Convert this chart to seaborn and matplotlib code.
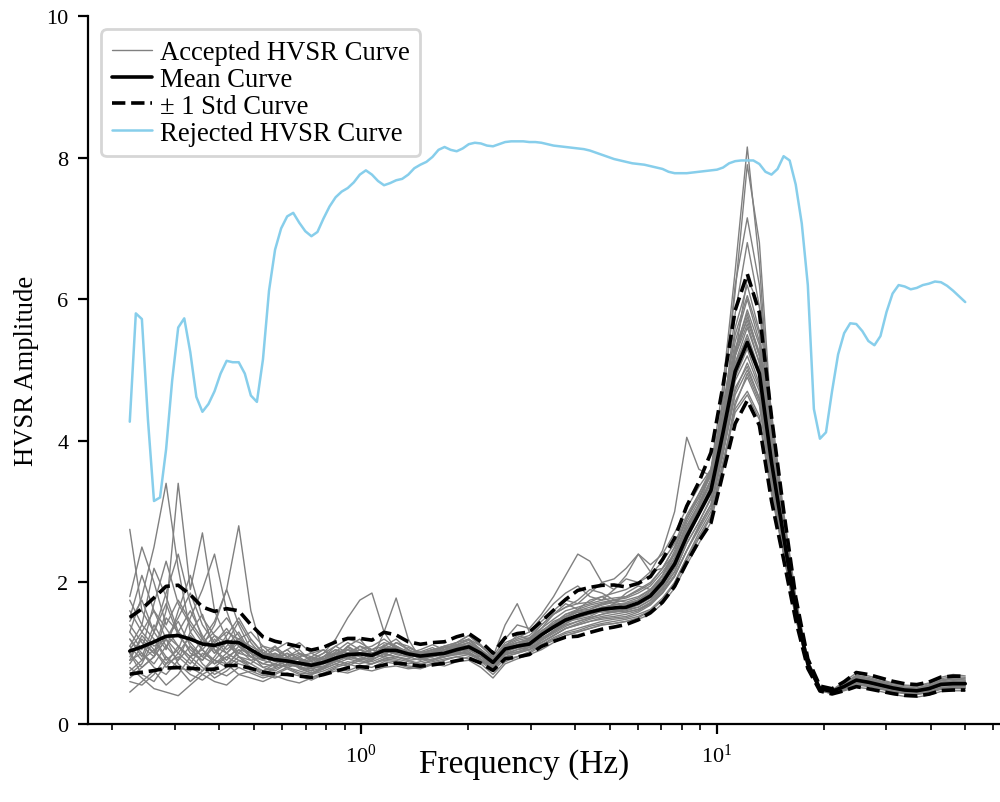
import numpy as np
import pandas as pd
import matplotlib
matplotlib.use("Agg")
import matplotlib.pyplot as plt
from matplotlib.lines import Line2D
import seaborn as sns

# Frequency sampling (Hz): fine grid for the rejected window, every other point for the rest
freq_fine = np.geomspace(0.224, 50.0, 139)
freq = freq_fine[::2]

# Mean HVSR curve and its log-normal standard deviation
mean_curve = [
    1.03, 1.09, 1.16, 1.24, 1.25, 1.20, 1.13, 1.11, 1.16, 1.15,
    1.05, 0.95, 0.91, 0.89, 0.86, 0.83, 0.87, 0.93, 0.98, 0.99,
    0.97, 1.04, 1.04, 0.99, 0.96, 0.98, 1.00, 1.05, 1.09, 1.00,
    0.87, 1.06, 1.10, 1.13, 1.26, 1.37, 1.47, 1.53, 1.58, 1.62,
    1.64, 1.65, 1.71, 1.81, 2.00, 2.26, 2.65, 2.97, 3.30, 4.12,
    4.98, 5.39, 4.95, 3.70, 2.65, 1.62, 0.85, 0.50, 0.46, 0.53,
    0.62, 0.59, 0.55, 0.51, 0.48, 0.47, 0.50, 0.56, 0.57, 0.57]

std_log = [
    0.38, 0.40, 0.43, 0.45, 0.45, 0.42, 0.38, 0.36, 0.34, 0.33,
    0.29, 0.26, 0.25, 0.24, 0.24, 0.23, 0.22, 0.22, 0.21, 0.20,
    0.20, 0.22, 0.19, 0.16, 0.16, 0.16, 0.15, 0.16, 0.16, 0.15,
    0.14, 0.14, 0.15, 0.14, 0.14, 0.16, 0.18, 0.21, 0.20, 0.19,
    0.18, 0.16, 0.15, 0.14, 0.15, 0.15, 0.15, 0.14, 0.15, 0.15,
    0.16, 0.165, 0.16, 0.16, 0.13, 0.10, 0.08, 0.07, 0.08, 0.12,
    0.16, 0.17, 0.17, 0.17, 0.17, 0.17, 0.17, 0.17, 0.17, 0.17]

# Rejected window (on the fine grid)
rejected = [
    4.27, 5.80, 5.72, 4.30, 3.15, 3.20, 3.88, 4.85, 5.60, 5.73,
    5.25, 4.62, 4.41, 4.52, 4.70, 4.95, 5.13, 5.11, 5.11, 4.95,
    4.64, 4.55, 5.15, 6.12, 6.70, 7.00, 7.17, 7.22, 7.08, 6.96,
    6.89, 6.95, 7.14, 7.31, 7.44, 7.52, 7.57, 7.65, 7.76, 7.82,
    7.76, 7.67, 7.61, 7.64, 7.68, 7.70, 7.76, 7.85, 7.90, 7.94,
    8.01, 8.11, 8.15, 8.11, 8.09, 8.13, 8.19, 8.21, 8.20, 8.17,
    8.16, 8.19, 8.22, 8.23, 8.23, 8.23, 8.22, 8.22, 8.21, 8.19,
    8.17, 8.16, 8.15, 8.14, 8.13, 8.12, 8.10, 8.07, 8.04, 8.01,
    7.98, 7.96, 7.94, 7.92, 7.91, 7.90, 7.88, 7.86, 7.84, 7.80,
    7.78, 7.78, 7.78, 7.79, 7.80, 7.81, 7.82, 7.83, 7.86, 7.92,
    7.95, 7.96, 7.96, 7.96, 7.91, 7.80, 7.76, 7.84, 8.02, 7.96,
    7.62, 7.07, 6.20, 4.45, 4.03, 4.12, 4.70, 5.22, 5.52, 5.66,
    5.65, 5.55, 5.41, 5.35, 5.48, 5.82, 6.08, 6.20, 6.18, 6.14,
    6.16, 6.20, 6.22, 6.25, 6.24, 6.19, 6.12, 6.04, 5.96]

# Accepted windows
win_a = [2.75, 1.60, 1.30, 1.85, 2.40, 1.70, 1.20, 1.45, 1.90, 1.40,
         1.05, 0.90, 1.10, 0.85, 0.80, 0.95, 1.05, 0.90, 1.10, 1.20,
         1.00, 0.95, 1.15, 1.05, 0.92, 1.00, 1.08, 1.12, 1.20, 1.05,
         0.90, 1.10, 1.25, 1.20, 1.35, 1.55, 1.70, 1.62, 1.75, 1.80,
         1.70, 1.85, 1.95, 1.90, 2.10, 2.45, 2.90, 3.20, 3.50, 4.30,
         5.30, 5.80, 5.20, 3.90, 2.75, 1.70, 0.90, 0.52, 0.47, 0.58,
         0.68, 0.64, 0.60, 0.55, 0.52, 0.50, 0.55, 0.62, 0.64, 0.62]
win_b = [0.45, 0.60, 0.75, 0.55, 0.70, 0.95, 0.80, 0.65, 0.75, 0.90,
         0.80, 0.70, 0.65, 0.72, 0.68, 0.62, 0.70, 0.78, 0.75, 0.82,
         0.80, 0.88, 0.85, 0.80, 0.78, 0.84, 0.86, 0.90, 0.95, 0.88,
         0.75, 0.92, 0.95, 1.00, 1.10, 1.18, 1.25, 1.30, 1.35, 1.40,
         1.42, 1.45, 1.50, 1.60, 1.75, 2.00, 2.35, 2.65, 2.95, 3.70,
         4.45, 4.70, 4.35, 3.30, 2.40, 1.50, 0.80, 0.48, 0.43, 0.48,
         0.55, 0.53, 0.49, 0.46, 0.43, 0.42, 0.44, 0.49, 0.50, 0.50]
win_c = [1.20, 0.95, 1.40, 1.10, 0.90, 1.30, 1.55, 1.05, 0.85, 1.00,
         1.20, 1.00, 0.80, 0.95, 1.05, 0.88, 0.78, 0.95, 1.10, 1.00,
         0.92, 1.10, 1.20, 1.05, 0.95, 0.90, 0.98, 1.10, 1.15, 1.02,
         0.85, 1.00, 1.12, 1.15, 1.28, 1.40, 1.50, 1.58, 1.55, 1.62,
         1.70, 1.65, 1.72, 1.85, 2.10, 2.40, 2.85, 3.15, 3.60, 4.80,
         6.40, 8.15, 6.50, 4.10, 2.80, 1.70, 0.88, 0.50, 0.46, 0.55,
         0.64, 0.60, 0.57, 0.52, 0.50, 0.48, 0.52, 0.58, 0.60, 0.59]
win_d = [0.85, 1.10, 0.95, 1.50, 1.30, 1.00, 0.90, 1.15, 1.35, 1.10,
         0.95, 0.85, 0.92, 1.00, 0.80, 0.75, 0.90, 1.00, 0.92, 0.98,
         1.05, 1.00, 0.95, 0.92, 1.00, 1.05, 0.98, 1.02, 1.08, 0.98,
         0.86, 1.05, 1.08, 1.10, 1.22, 1.30, 1.42, 1.50, 1.60, 1.58,
         1.60, 1.62, 1.68, 1.78, 1.95, 2.25, 2.70, 3.05, 3.45, 4.60,
         6.10, 7.90, 6.80, 4.30, 2.90, 1.75, 0.90, 0.51, 0.45, 0.53,
         0.62, 0.58, 0.55, 0.52, 0.49, 0.47, 0.50, 0.57, 0.58, 0.58]
win_e = [1.50, 2.10, 1.60, 1.20, 1.45, 1.10, 0.95, 1.20, 1.00, 0.90,
         0.85, 1.00, 1.10, 0.95, 0.85, 0.80, 0.95, 1.10, 1.00, 0.90,
         0.95, 1.12, 1.05, 0.95, 0.90, 0.98, 1.05, 1.00, 1.12, 1.05,
         0.90, 1.08, 1.15, 1.18, 1.30, 1.45, 1.52, 1.60, 1.65, 1.70,
         1.72, 1.68, 1.75, 1.88, 2.05, 2.35, 2.75, 3.10, 3.55, 4.60,
         6.20, 7.15, 6.20, 4.20, 2.85, 1.72, 0.88, 0.50, 0.46, 0.54,
         0.63, 0.61, 0.56, 0.51, 0.49, 0.48, 0.51, 0.57, 0.59, 0.58]
win_f = [0.70, 0.85, 1.20, 0.95, 0.80, 0.75, 1.00, 0.90, 0.80, 1.05,
         0.90, 0.80, 0.75, 0.85, 0.95, 0.82, 0.80, 0.88, 0.95, 1.10,
         1.00, 0.95, 1.02, 1.00, 0.92, 0.95, 1.00, 1.08, 1.05, 0.95,
         0.82, 1.02, 1.08, 1.12, 1.20, 1.32, 1.45, 1.48, 1.52, 1.60,
         1.58, 1.62, 1.65, 1.75, 1.92, 2.20, 2.60, 2.95, 3.35, 4.30,
         5.80, 6.80, 5.90, 4.00, 2.75, 1.68, 0.86, 0.49, 0.45, 0.52,
         0.60, 0.58, 0.54, 0.50, 0.47, 0.46, 0.49, 0.55, 0.56, 0.56]
win_g = [1.30, 1.80, 2.50, 3.40, 2.20, 1.30, 1.05, 0.90, 1.10, 1.30,
         1.00, 0.80, 0.85, 0.95, 0.78, 0.72, 0.80, 0.95, 1.05, 0.95,
         0.90, 1.00, 1.10, 1.00, 1.02, 1.08, 1.00, 0.98, 1.05, 0.95,
         0.85, 1.02, 1.08, 1.05, 1.18, 1.30, 1.40, 1.45, 1.50, 1.55,
         1.60, 1.58, 1.62, 1.72, 1.90, 2.15, 2.55, 2.85, 3.20, 4.00,
         4.90, 5.30, 4.80, 3.60, 2.60, 1.60, 0.84, 0.49, 0.45, 0.52,
         0.61, 0.58, 0.54, 0.50, 0.47, 0.46, 0.49, 0.55, 0.56, 0.56]
win_h = [0.95, 1.20, 1.00, 1.60, 3.40, 1.90, 2.70, 1.60, 1.20, 1.00,
         0.95, 1.05, 0.90, 0.82, 0.88, 0.95, 0.85, 0.90, 1.00, 1.05,
         0.95, 1.05, 0.98, 0.95, 1.00, 0.95, 1.02, 1.10, 1.08, 1.00,
         0.88, 1.08, 1.15, 1.20, 1.32, 1.42, 1.55, 1.62, 1.68, 1.72,
         1.75, 1.72, 1.78, 1.90, 2.10, 2.35, 2.75, 3.05, 3.40, 4.20,
         5.10, 5.60, 5.10, 3.80, 2.70, 1.65, 0.86, 0.50, 0.46, 0.54,
         0.63, 0.60, 0.56, 0.52, 0.49, 0.48, 0.51, 0.57, 0.58, 0.58]
win_i = [1.00, 0.80, 0.95, 1.20, 1.00, 0.85, 1.10, 1.40, 1.90, 2.80,
         1.60, 1.00, 0.95, 1.05, 0.90, 0.85, 0.95, 1.05, 0.95, 0.90,
         1.00, 1.08, 1.00, 0.95, 1.02, 1.00, 0.95, 1.05, 1.10, 1.00,
         0.88, 1.05, 1.10, 1.15, 1.25, 1.35, 1.45, 1.50, 1.55, 1.60,
         1.62, 1.65, 1.70, 1.80, 2.00, 2.25, 2.65, 2.95, 3.30, 4.10,
         5.00, 5.40, 4.95, 3.70, 2.65, 1.62, 0.85, 0.50, 0.46, 0.53,
         0.62, 0.59, 0.55, 0.51, 0.48, 0.47, 0.50, 0.56, 0.57, 0.57]
win_j = [1.10, 1.40, 1.20, 0.90, 1.05, 1.50, 1.90, 2.40, 1.60, 1.10,
         0.95, 0.90, 1.00, 0.92, 0.85, 0.90, 1.00, 1.20, 1.50, 1.75,
         1.85, 1.30, 1.05, 0.98, 1.00, 1.05, 1.10, 1.02, 0.98, 0.95,
         0.82, 1.00, 1.05, 1.10, 1.20, 1.32, 1.42, 1.52, 1.58, 1.65,
         1.68, 1.70, 1.75, 1.85, 2.05, 2.30, 2.70, 3.00, 3.35, 4.15,
         5.05, 5.50, 5.00, 3.75, 2.68, 1.63, 0.86, 0.50, 0.46, 0.54,
         0.63, 0.60, 0.56, 0.52, 0.49, 0.48, 0.51, 0.57, 0.58, 0.58]
win_k = [0.60, 0.55, 0.70, 0.95, 0.80, 0.60, 0.75, 0.90, 0.85, 0.70,
         0.75, 0.68, 0.72, 0.80, 0.75, 0.70, 0.75, 0.82, 0.88, 0.85,
         0.90, 1.30, 1.78, 1.20, 0.92, 0.90, 0.95, 1.00, 1.02, 0.92,
         0.80, 0.98, 1.02, 1.08, 1.15, 1.25, 1.35, 1.42, 1.48, 1.52,
         1.55, 1.58, 1.62, 1.70, 1.88, 2.10, 2.45, 2.80, 3.10, 3.85,
         4.70, 5.10, 4.70, 3.50, 2.55, 1.58, 0.83, 0.49, 0.45, 0.51,
         0.59, 0.57, 0.53, 0.49, 0.46, 0.45, 0.48, 0.54, 0.55, 0.55]
win_l = [1.80, 2.50, 2.00, 1.40, 1.75, 1.45, 1.20, 1.00, 1.25, 1.50,
         1.20, 1.00, 0.90, 1.00, 0.92, 0.88, 0.95, 1.00, 0.95, 1.00,
         1.05, 1.10, 1.00, 1.05, 0.98, 1.02, 1.10, 1.15, 1.25, 1.10,
         0.95, 1.20, 1.40, 1.35, 1.55, 1.80, 2.10, 2.40, 2.30, 2.00,
         2.05, 2.20, 2.40, 2.25, 2.40, 2.70, 3.05, 3.35, 3.60, 4.40,
         5.40, 6.00, 5.40, 4.00, 2.80, 1.72, 0.88, 0.51, 0.47, 0.56,
         0.66, 0.63, 0.58, 0.54, 0.51, 0.50, 0.54, 0.61, 0.63, 0.62]
win_m = [0.90, 1.00, 0.85, 1.10, 1.30, 1.15, 0.95, 0.85, 0.95, 1.05,
         1.00, 0.90, 0.85, 0.80, 0.85, 0.78, 0.85, 0.95, 1.05, 1.00,
         0.95, 1.02, 1.08, 1.00, 0.95, 1.00, 1.05, 1.12, 1.18, 1.05,
         0.92, 1.12, 1.20, 1.25, 1.40, 1.55, 1.65, 1.70, 1.72, 1.80,
         1.85, 1.90, 2.00, 2.15, 2.45, 3.00, 4.05, 3.60, 3.50, 4.40,
         5.30, 5.70, 5.20, 3.85, 2.75, 1.68, 0.87, 0.50, 0.46, 0.55,
         0.64, 0.61, 0.57, 0.53, 0.50, 0.49, 0.52, 0.58, 0.60, 0.59]
win_n = [1.20, 1.00, 0.80, 0.70, 0.90, 1.10, 0.85, 0.70, 0.80, 0.95,
         0.85, 0.75, 0.80, 0.90, 0.82, 0.75, 0.80, 0.90, 0.85, 0.92,
         0.88, 0.95, 0.92, 0.88, 0.85, 0.90, 0.95, 1.00, 1.02, 0.90,
         0.78, 0.95, 1.00, 1.05, 1.12, 1.22, 1.30, 1.35, 1.40, 1.45,
         1.48, 1.50, 1.55, 1.62, 1.78, 2.00, 2.35, 2.70, 3.00, 3.70,
         4.40, 4.65, 4.30, 3.25, 2.40, 1.50, 0.80, 0.47, 0.43, 0.49,
         0.56, 0.54, 0.50, 0.46, 0.43, 0.42, 0.45, 0.50, 0.51, 0.51]
win_o = [1.40, 1.15, 1.00, 1.25, 1.10, 0.95, 1.20, 1.05, 0.90, 1.10,
         1.00, 0.92, 0.98, 0.88, 0.92, 0.85, 0.92, 1.00, 0.95, 1.05,
         1.00, 1.05, 1.00, 1.08, 1.00, 1.05, 1.10, 1.15, 1.20, 1.10,
         0.95, 1.40, 1.70, 1.30, 1.45, 1.60, 1.75, 1.70, 1.85, 2.00,
         1.90, 2.10, 2.40, 2.15, 2.20, 2.50, 2.90, 3.20, 3.55, 4.35,
         5.20, 5.75, 5.25, 3.90, 2.75, 1.70, 0.87, 0.51, 0.47, 0.55,
         0.65, 0.62, 0.57, 0.53, 0.50, 0.49, 0.53, 0.59, 0.61, 0.60]
win_p = [0.80, 0.65, 0.50, 0.45, 0.40, 0.55, 0.70, 0.60, 0.55, 0.70,
         0.65, 0.60, 0.68, 0.62, 0.58, 0.65, 0.70, 0.75, 0.72, 0.78,
         0.75, 0.80, 0.82, 0.78, 0.80, 0.85, 0.82, 0.88, 0.90, 0.80,
         0.65, 0.85, 0.92, 0.98, 1.05, 1.15, 1.25, 1.30, 1.35, 1.40,
         1.42, 1.45, 1.48, 1.55, 1.70, 1.92, 2.25, 2.55, 2.85, 3.60,
         4.50, 4.95, 4.55, 3.40, 2.48, 1.55, 0.82, 0.48, 0.44, 0.50,
         0.58, 0.55, 0.51, 0.47, 0.44, 0.43, 0.46, 0.52, 0.53, 0.53]
win_q = [1.05, 1.30, 1.60, 1.35, 1.10, 0.95, 1.05, 1.25, 1.15, 0.95,
         0.90, 0.95, 1.05, 1.15, 1.00, 0.90, 0.95, 1.05, 1.00, 0.95,
         1.00, 1.05, 1.10, 1.00, 0.98, 1.05, 1.08, 1.12, 1.10, 1.00,
         0.88, 1.05, 1.12, 1.18, 1.30, 1.42, 1.55, 1.60, 1.62, 1.68,
         1.72, 1.75, 1.80, 1.90, 2.05, 2.30, 2.65, 2.95, 3.25, 3.95,
         5.20, 6.30, 5.90, 4.40, 3.00, 1.80, 0.90, 0.51, 0.46, 0.55,
         0.64, 0.61, 0.57, 0.53, 0.50, 0.49, 0.52, 0.58, 0.60, 0.59]
win_r = [1.60, 1.30, 1.10, 1.20, 1.50, 1.85, 1.40, 1.15, 1.30, 1.20,
         1.10, 1.00, 0.95, 0.90, 0.95, 1.00, 1.05, 0.95, 1.00, 1.10,
         1.05, 1.00, 1.05, 1.00, 0.98, 1.00, 1.05, 1.08, 1.12, 1.00,
         0.85, 1.05, 1.10, 1.15, 1.28, 1.40, 1.52, 1.58, 1.60, 1.65,
         1.68, 1.70, 1.75, 1.85, 2.05, 2.30, 2.70, 3.00, 3.35, 4.25,
         5.10, 5.45, 4.95, 3.70, 2.68, 1.63, 0.86, 0.50, 0.46, 0.53,
         0.62, 0.59, 0.55, 0.51, 0.48, 0.47, 0.50, 0.56, 0.57, 0.57]
win_s = [0.75, 0.90, 1.05, 0.85, 0.95, 0.80, 0.70, 0.80, 0.95, 0.85,
         0.80, 0.72, 0.78, 0.85, 0.80, 0.72, 0.78, 0.85, 0.92, 0.88,
         0.85, 0.92, 0.90, 0.85, 0.88, 0.92, 0.95, 0.98, 1.00, 0.90,
         0.80, 0.98, 1.02, 1.05, 1.15, 1.25, 1.35, 1.40, 1.45, 1.48,
         1.50, 1.52, 1.58, 1.68, 1.85, 2.10, 2.45, 2.78, 3.10, 3.90,
         4.75, 5.05, 4.60, 3.45, 2.50, 1.56, 0.83, 0.49, 0.45, 0.52,
         0.60, 0.57, 0.53, 0.49, 0.46, 0.45, 0.48, 0.54, 0.55, 0.55]
win_t = [1.10, 0.90, 1.30, 1.70, 1.25, 1.05, 0.90, 1.10, 1.00, 1.20,
         1.05, 0.95, 0.88, 0.92, 0.85, 0.80, 0.88, 0.98, 1.08, 1.00,
         0.98, 1.05, 1.02, 0.98, 0.95, 1.00, 1.05, 1.10, 1.15, 1.02,
         0.90, 1.10, 1.18, 1.22, 1.35, 1.48, 1.60, 1.65, 1.70, 1.75,
         1.78, 1.80, 1.88, 1.98, 2.20, 2.50, 2.90, 3.25, 3.55, 4.50,
         5.50, 6.05, 5.50, 4.05, 2.85, 1.72, 0.88, 0.51, 0.47, 0.55,
         0.65, 0.62, 0.57, 0.53, 0.50, 0.49, 0.53, 0.59, 0.61, 0.60]
win_u = [1.45, 1.75, 1.30, 1.05, 1.60, 2.10, 1.50, 1.25, 1.05, 1.20,
         1.30, 1.10, 0.95, 1.05, 1.15, 1.00, 0.92, 1.02, 1.15, 1.05,
         1.10, 1.20, 1.08, 1.00, 1.05, 1.12, 1.05, 1.15, 1.25, 1.12,
         0.92, 1.15, 1.22, 1.30, 1.50, 1.70, 1.85, 1.95, 1.80, 1.75,
         1.90, 2.05, 2.00, 2.10, 2.30, 2.55, 2.95, 3.25, 3.60, 4.35,
         5.25, 5.85, 5.35, 3.95, 2.78, 1.70, 0.88, 0.52, 0.48, 0.60,
         0.72, 0.68, 0.63, 0.58, 0.55, 0.54, 0.58, 0.66, 0.70, 0.68]
win_v = [0.65, 0.80, 0.95, 1.20, 0.85, 0.70, 0.62, 0.75, 0.68, 0.80,
         0.72, 0.65, 0.70, 0.78, 0.70, 0.66, 0.72, 0.80, 0.85, 0.80,
         0.85, 0.90, 0.88, 0.82, 0.80, 0.86, 0.90, 0.95, 0.92, 0.85,
         0.70, 0.88, 0.95, 1.02, 1.12, 1.20, 1.28, 1.32, 1.38, 1.42,
         1.45, 1.48, 1.52, 1.60, 1.75, 1.98, 2.30, 2.62, 2.92, 3.65,
         4.55, 4.90, 4.50, 3.35, 2.45, 1.52, 0.81, 0.47, 0.43, 0.47,
         0.52, 0.50, 0.46, 0.42, 0.39, 0.38, 0.41, 0.46, 0.47, 0.47]
win_w = [1.75, 1.40, 2.20, 1.80, 1.30, 1.60, 1.25, 1.00, 1.15, 1.45,
         1.15, 0.95, 1.00, 0.90, 0.98, 0.92, 1.00, 1.10, 1.20, 1.15,
         1.05, 1.15, 1.10, 1.02, 0.98, 1.02, 1.08, 1.05, 1.10, 1.05,
         0.90, 1.10, 1.15, 1.20, 1.40, 1.55, 1.65, 1.75, 1.90, 1.85,
         1.75, 1.80, 1.90, 2.00, 2.20, 2.40, 2.80, 3.10, 3.45, 4.30,
         5.20, 5.65, 5.10, 3.80, 2.70, 1.66, 0.87, 0.51, 0.47, 0.57,
         0.69, 0.66, 0.61, 0.57, 0.54, 0.53, 0.57, 0.64, 0.67, 0.66]
win_x = [0.90, 1.25, 1.05, 0.80, 1.00, 1.25, 1.05, 0.85, 1.00, 1.15,
         0.95, 0.85, 0.82, 0.88, 0.80, 0.78, 0.82, 0.88, 0.95, 0.92,
         0.92, 0.98, 0.95, 0.90, 0.92, 0.95, 0.98, 1.02, 1.05, 0.95,
         0.80, 0.98, 1.05, 1.08, 1.18, 1.28, 1.38, 1.45, 1.50, 1.55,
         1.58, 1.60, 1.65, 1.75, 1.92, 2.15, 2.55, 2.85, 3.18, 3.95,
         4.85, 5.20, 4.75, 3.55, 2.58, 1.60, 0.84, 0.49, 0.45, 0.50,
         0.57, 0.55, 0.51, 0.47, 0.44, 0.43, 0.46, 0.51, 0.52, 0.52]
win_y = [1.30, 1.05, 1.70, 2.30, 1.70, 1.40, 1.15, 1.30, 1.50, 1.25,
         1.00, 1.10, 1.05, 0.95, 1.00, 0.95, 0.90, 1.00, 1.05, 1.00,
         0.98, 1.05, 1.15, 1.10, 1.00, 1.02, 1.00, 1.08, 1.15, 1.05,
         0.88, 1.08, 1.12, 1.18, 1.30, 1.40, 1.48, 1.55, 1.62, 1.70,
         1.75, 1.78, 1.85, 1.95, 2.15, 2.40, 2.80, 3.10, 3.45, 4.35,
         5.60, 6.20, 5.55, 4.05, 2.82, 1.70, 0.87, 0.50, 0.46, 0.56,
         0.67, 0.64, 0.59, 0.55, 0.52, 0.51, 0.55, 0.62, 0.65, 0.64]
win_z = [1.00, 0.70, 0.60, 0.85, 1.10, 0.90, 0.75, 0.95, 1.20, 0.95,
         0.80, 0.75, 0.85, 0.80, 0.72, 0.70, 0.78, 0.85, 0.82, 0.90,
         0.85, 0.92, 0.95, 0.90, 0.85, 0.88, 0.92, 0.95, 0.98, 0.90,
         0.78, 0.95, 1.00, 1.05, 1.15, 1.25, 1.35, 1.40, 1.45, 1.50,
         1.52, 1.55, 1.60, 1.70, 1.85, 2.08, 2.45, 2.75, 3.05, 3.80,
         4.65, 5.00, 4.60, 3.45, 2.52, 1.57, 0.83, 0.49, 0.45, 0.51,
         0.60, 0.58, 0.54, 0.50, 0.47, 0.46, 0.49, 0.55, 0.56, 0.56]

accepted = [win_a, win_b, win_c, win_d, win_e, win_f, win_g, win_h, win_i, win_j,
            win_k, win_l, win_m, win_n, win_o, win_p, win_q, win_r, win_s, win_t,
            win_u, win_v, win_w, win_x, win_y, win_z]

# ---- style ----
sns.set_style("ticks")
plt.rcParams["font.family"] = ["Liberation Serif", "DejaVu Serif"]
plt.rcParams["mathtext.fontset"] = "stix"
plt.rcParams.update({
    "axes.edgecolor": "black",
    "axes.linewidth": 0.8,
    "xtick.color": "black",
    "ytick.color": "black",
    "text.color": "black",
    "axes.labelcolor": "black",
    "xtick.major.size": 3.5,
    "ytick.major.size": 3.5,
    "xtick.minor.size": 2.0,
    "xtick.major.width": 0.8,
    "ytick.major.width": 0.8,
    "xtick.minor.width": 0.6,
})

fig = plt.figure(figsize=(5.0, 4.015), dpi=200)
ax = fig.add_axes([0.088, 0.0971, 0.919, 0.8817])
ax.set_xscale("log")

windows = pd.DataFrame({
    "freq": np.tile(freq, len(accepted)),
    "amp": np.concatenate([np.asarray(w, dtype=float) for w in accepted]),
    "window": np.repeat(np.arange(len(accepted)), len(freq)),
})
sns.lineplot(data=windows, x="freq", y="amp", units="window", estimator=None,
             color="gray", lw=0.5, ax=ax, legend=False)

mean_arr = np.asarray(mean_curve)
sig = np.exp(np.asarray(std_log))
sns.lineplot(x=freq, y=mean_arr, color="black", lw=1.3, ax=ax)
sns.lineplot(x=freq, y=mean_arr * sig, color="black", lw=1.3, ls="--", ax=ax)
sns.lineplot(x=freq, y=mean_arr / sig, color="black", lw=1.3, ls="--", ax=ax)
sns.lineplot(x=freq_fine, y=rejected, color="skyblue", lw=0.9, ax=ax)

ax.set_ylim(0, 10)
ax.set_yticks(range(0, 11, 2))
ax.tick_params(axis="both", which="both", labelsize=8)
ax.set_xlabel("Frequency (Hz)", fontsize=12, va="top")
ax.xaxis.set_label_coords(0.475, -0.034)
ax.set_ylabel("HVSR Amplitude", fontsize=9.6, labelpad=2.5)
sns.despine(ax=ax)

handles = [
    Line2D([], [], color="gray", lw=0.5),
    Line2D([], [], color="black", lw=1.3),
    Line2D([], [], color="black", lw=1.3, ls="--"),
    Line2D([], [], color="skyblue", lw=0.9),
]
labels = ["Accepted HVSR Curve", "Mean Curve", "\u00b1 1 Std Curve", "Rejected HVSR Curve"]
ax.legend(handles, labels, loc="upper left", fontsize=9.6, handlelength=1.5,
          handletextpad=0.3, labelspacing=0.07, borderaxespad=0.5, frameon=True,
          edgecolor="0.8")

fig.savefig("out.png", dpi=200)
